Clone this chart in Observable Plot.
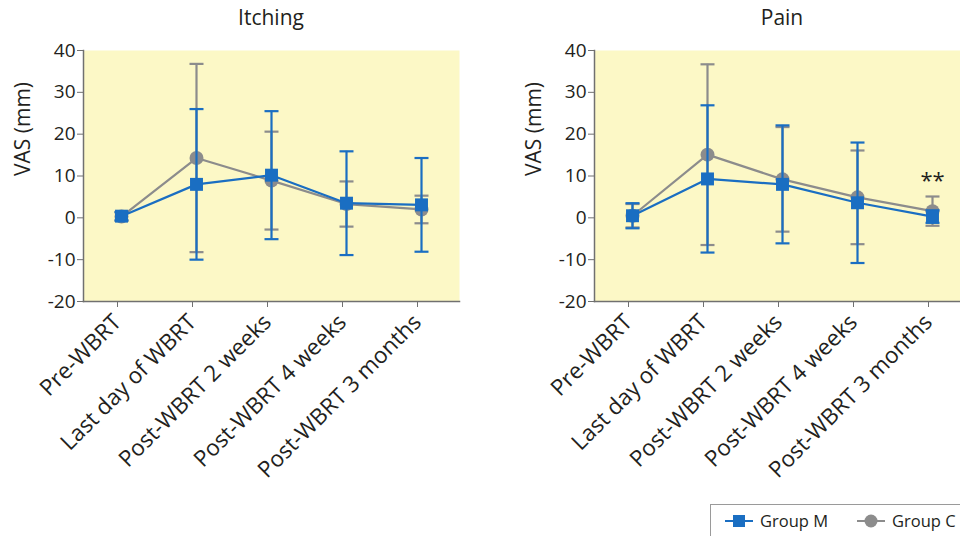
<!DOCTYPE html>
<html>
<head>
<meta charset="utf-8">
<script src="https://cdn.jsdelivr.net/npm/d3@7"></script>
<script src="https://cdn.jsdelivr.net/npm/@observablehq/plot@0.6"></script>
<style>
  html, body { margin: 0; padding: 0; background: #fff; }
  #wrap { position: relative; width: 960px; height: 536px; overflow: hidden; font-family: "Open Sans", sans-serif; color: #231f20; }
  .panel { position: absolute; top: 0; }
  .title { position: absolute; top: 4px; font-size: 21px; line-height: 26px; text-align: center; width: 200px; }
  #legend { position: absolute; left: 710px; top: 504px; width: 280px; height: 40px; border: 1px solid #9a9a9a; box-sizing: border-box; background: #fff; }
  #legend .item { position: absolute; top: 4px; font-size: 16.5px; line-height: 24px; display: flex; align-items: center; }
  #legend svg { margin-right: 5px; }
</style>
</head>
<body>
<div id="wrap">
  <div class="title" style="left:171px;">Itching</div>
  <div class="title" style="left:682px;">Pain</div>
  <div class="panel" id="left" style="left:0px; width:480px;"></div>
  <div class="panel" id="right" style="left:480px; width:490px;"></div>
  <div id="legend"></div>
</div>
<script>
// ---- data ----
const categories = ["Pre-WBRT", "Last day of WBRT", "Post-WBRT 2 weeks", "Post-WBRT 4 weeks", "Post-WBRT 3 months"];
const yTicks = [-20, -10, 0, 10, 20, 30, 40];
const groups = ["Group M", "Group C"];
const yLabel = "VAS (mm)";

const itchM_mean = [0.4, 8.0, 10.2, 3.5, 3.1];
const itchM_sd   = [1.0, 18.0, 15.3, 12.4, 11.2];
const itchC_mean = [0.3, 14.3, 8.9, 3.3, 2.0];
const itchC_sd   = [1.0, 22.5, 11.7, 5.4, 3.3];

const painM_mean = [0.5, 9.3, 8.0, 3.6, 0.3];
const painM_sd   = [3.0, 17.6, 14.1, 14.4, 1.5];
const painC_mean = [0.5, 15.1, 9.2, 4.9, 1.6];
const painC_sd   = [2.8, 21.6, 12.5, 11.2, 3.5];

const painSig = ["", "", "", "", "**"];

// ---- styles ----
const BLUE = "#1a6ec2";
const GRAY = "#8c8c8c";
const BG = "#fcf8c6";
const AXIS = "#707070";

// horizontal cap symbol for error bars
const capSymbol = {
  draw(context, size) {
    const w = Math.sqrt(size / Math.PI);
    context.moveTo(-w, 0);
    context.lineTo(w, 0);
  }
};

function rows(means, sds, group, sig) {
  return categories.map((c, i) => ({
    cat: c, mean: means[i], lo: means[i] - sds[i], hi: means[i] + sds[i], group, sig: sig ? sig[i] : ""
  }));
}

function chart(dataM, dataC, {width, marginLeft, marginRight}) {
  const seriesMarks = (data, color, symbol, r) => [
    Plot.ruleX(data, {x: "cat", y1: "lo", y2: "hi", stroke: color, strokeWidth: 2.2}),
    Plot.dot(data, {x: "cat", y: "hi", symbol: capSymbol, r: 7, stroke: color, fill: "none", strokeWidth: 2.2}),
    Plot.dot(data, {x: "cat", y: "lo", symbol: capSymbol, r: 7, stroke: color, fill: "none", strokeWidth: 2.2}),
    Plot.line(data, {x: "cat", y: "mean", stroke: color, strokeWidth: 2.2}),
    Plot.dot(data, {x: "cat", y: "mean", symbol, r, fill: color, stroke: "none"})
  ];
  return Plot.plot({
    width, height: 536,
    marginLeft, marginRight, marginTop: 50, marginBottom: 235,
    style: {fontFamily: "Open Sans, sans-serif", fontSize: "19px", color: "#231f20", background: "transparent", overflow: "visible"},
    x: {type: "point", domain: categories, padding: 0.5},
    y: {domain: [-20, 40]},
    marks: [
      Plot.frame({fill: BG, stroke: "none"}),
      Plot.frame({anchor: "left", stroke: AXIS, strokeWidth: 1.5}),
      Plot.frame({anchor: "bottom", stroke: AXIS, strokeWidth: 1.5}),
      Plot.axisY({ticks: yTicks, tickSize: 6, tickFormat: () => "", stroke: AXIS, label: null}),
      Plot.text(yTicks, {y: (d) => d, text: (d) => String(d), frameAnchor: "left", textAnchor: "end", dx: -8, fontSize: 19, fill: "#231f20"}),
      Plot.text([yLabel], {frameAnchor: "left", rotate: -90, dx: -60, fontSize: 21, fill: "#231f20"}),
      Plot.axisX({tickRotate: -45, tickSize: 6, tickPadding: 11, dx: -4, fontSize: 22.5, stroke: AXIS, fill: "#231f20", label: null}),
      ...seriesMarks(dataC, GRAY, "circle", 7),
      ...seriesMarks(dataM, BLUE, "square", 7.3),
      Plot.text(dataC.filter(d => d.sig), {x: "cat", y: "hi", text: "sig", dy: -8, fontSize: 22, lineAnchor: "bottom", fill: "#231f20"})
    ]
  });
}

document.getElementById("left").append(
  chart(rows(itchM_mean, itchM_sd, "Group M"), rows(itchC_mean, itchC_sd, "Group C"), {width: 480, marginLeft: 83, marginRight: 21})
);
document.getElementById("right").append(
  chart(rows(painM_mean, painM_sd, "Group M"), rows(painC_mean, painC_sd, "Group C", painSig), {width: 490, marginLeft: 114, marginRight: 0})
);

// legend
const legend = document.getElementById("legend");
const legendStyle = [
  {name: groups[0], color: BLUE, shape: "rect", left: 14},
  {name: groups[1], color: GRAY, shape: "circle", left: 146}
];
for (const s of legendStyle) {
  const item = document.createElement("div");
  item.className = "item";
  item.style.left = s.left + "px";
  const shape = s.shape === "rect"
    ? `<rect x="8" y="5" width="12" height="12" fill="${s.color}"/>`
    : `<circle cx="14" cy="11" r="6.5" fill="${s.color}"/>`;
  item.innerHTML = `<svg width="30" height="22"><line x1="0" x2="28" y1="11" y2="11" stroke="${s.color}" stroke-width="2"/>${shape}</svg><span>${s.name}</span>`;
  legend.append(item);
}
</script>
</body>
</html>
